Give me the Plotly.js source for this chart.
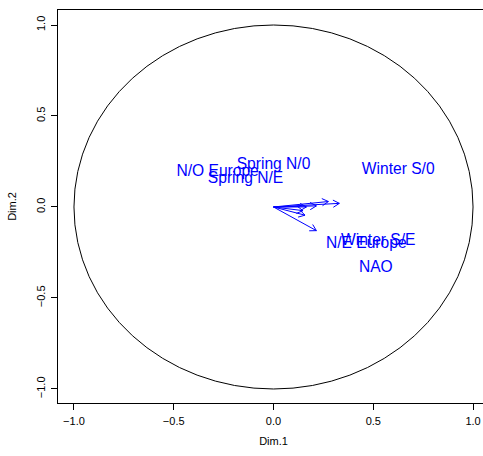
<!DOCTYPE html>
<html>
<head>
<meta charset="utf-8">
<script src="https://cdn.plot.ly/plotly-3.0.1.min.js"></script>
<style>
  html, body { margin: 0; padding: 0; overflow: hidden; background: #fff; }
  #chart { width: 500px; height: 456px; }
</style>
</head>
<body>
<div id="chart"></div>
<script>
// Variables of the PCA and their coordinates on Dim.1 / Dim.2
const varNames = ["N/O Europe", "Spring N/0", "Spring N/E", "Winter S/0", "N/E Europe", "Winter S/E", "NAO"];
const arrowX = [0.148, 0.275, 0.165, 0.33, 0.215, 0.215, 0.158];
const arrowY = [-0.02, 0.03, 0.0, 0.02, 0.006, -0.13, -0.045];
const labelX = [-0.28, 0.0, -0.14, 0.625, 0.465, 0.525, 0.513];
const labelY = [0.192, 0.231, 0.154, 0.203, -0.205, -0.19, -0.336];
const tickVals = [-1, -0.5, 0, 0.5, 1];
const tickText = ["\u22121.0", "\u22120.5", "0.0", "0.5", "1.0"];

const W = 500, H = 456;
const M = { l: 58, r: 11, t: 10, b: 53 };
const xRange = [-1.08, 1.08];
const yRange = [-1.077, 1.0824];
const blue = "#0000FF";

// pixel scale of each axis, so the arrow heads keep their shape
const sx = (W - M.l - M.r) / (xRange[1] - xRange[0]);
const sy = (H - M.t - M.b) / (yRange[1] - yRange[0]);
const headLen = 7.2, headAng = Math.PI / 6;

const ax = [], ay = [];
for (let i = 0; i < varNames.length; i++) {
  const x1 = arrowX[i], y1 = arrowY[i];
  ax.push(0, x1, null);
  ay.push(0, y1, null);
  const ang = Math.atan2(y1 * sy, x1 * sx);
  for (const s of [1, -1]) {
    const a = ang + Math.PI + s * headAng;
    ax.push(x1, x1 + headLen * Math.cos(a) / sx, null);
    ay.push(y1, y1 + headLen * Math.sin(a) / sy, null);
  }
}

const font = "Liberation Sans, Arial, sans-serif";

const traces = [
  {
    type: "scatter", mode: "lines", x: ax, y: ay,
    line: { color: blue, width: 1 }, hoverinfo: "skip", showlegend: false
  },
  {
    type: "scatter", mode: "text", x: labelX, y: labelY, text: varNames,
    textposition: "middle center",
    textfont: { family: font, size: 15.6, color: blue },
    showlegend: false
  }
];

const axisCommon = {
  showgrid: false, zeroline: false,
  showline: true, mirror: true, linecolor: "#000", linewidth: 1,
  ticks: "outside", ticklen: 6, tickwidth: 1, tickcolor: "#000",
  tickvals: tickVals, ticktext: tickText,
  tickfont: { family: font, size: 11, color: "#000" }
};

const layout = {
  width: W, height: H,
  margin: M,
  paper_bgcolor: "#fff", plot_bgcolor: "#fff",
  xaxis: Object.assign({}, axisCommon, {
    range: xRange, ticklabelstandoff: 2,
    title: { text: "Dim.1", standoff: 11, font: { family: font, size: 11, color: "#000" } }
  }),
  yaxis: Object.assign({}, axisCommon, {
    range: yRange, tickangle: -90, ticklabelstandoff: 2,
    title: { text: "Dim.2", standoff: 15, font: { family: font, size: 11, color: "#000" } }
  }),
  shapes: [
    { type: "circle", xref: "x", yref: "y", x0: -1, y0: -1, x1: 1, y1: 1,
      line: { color: "#000", width: 1 } }
  ]
};

Plotly.newPlot("chart", traces, layout, { displayModeBar: false, staticPlot: true });
</script>
</body>
</html>
